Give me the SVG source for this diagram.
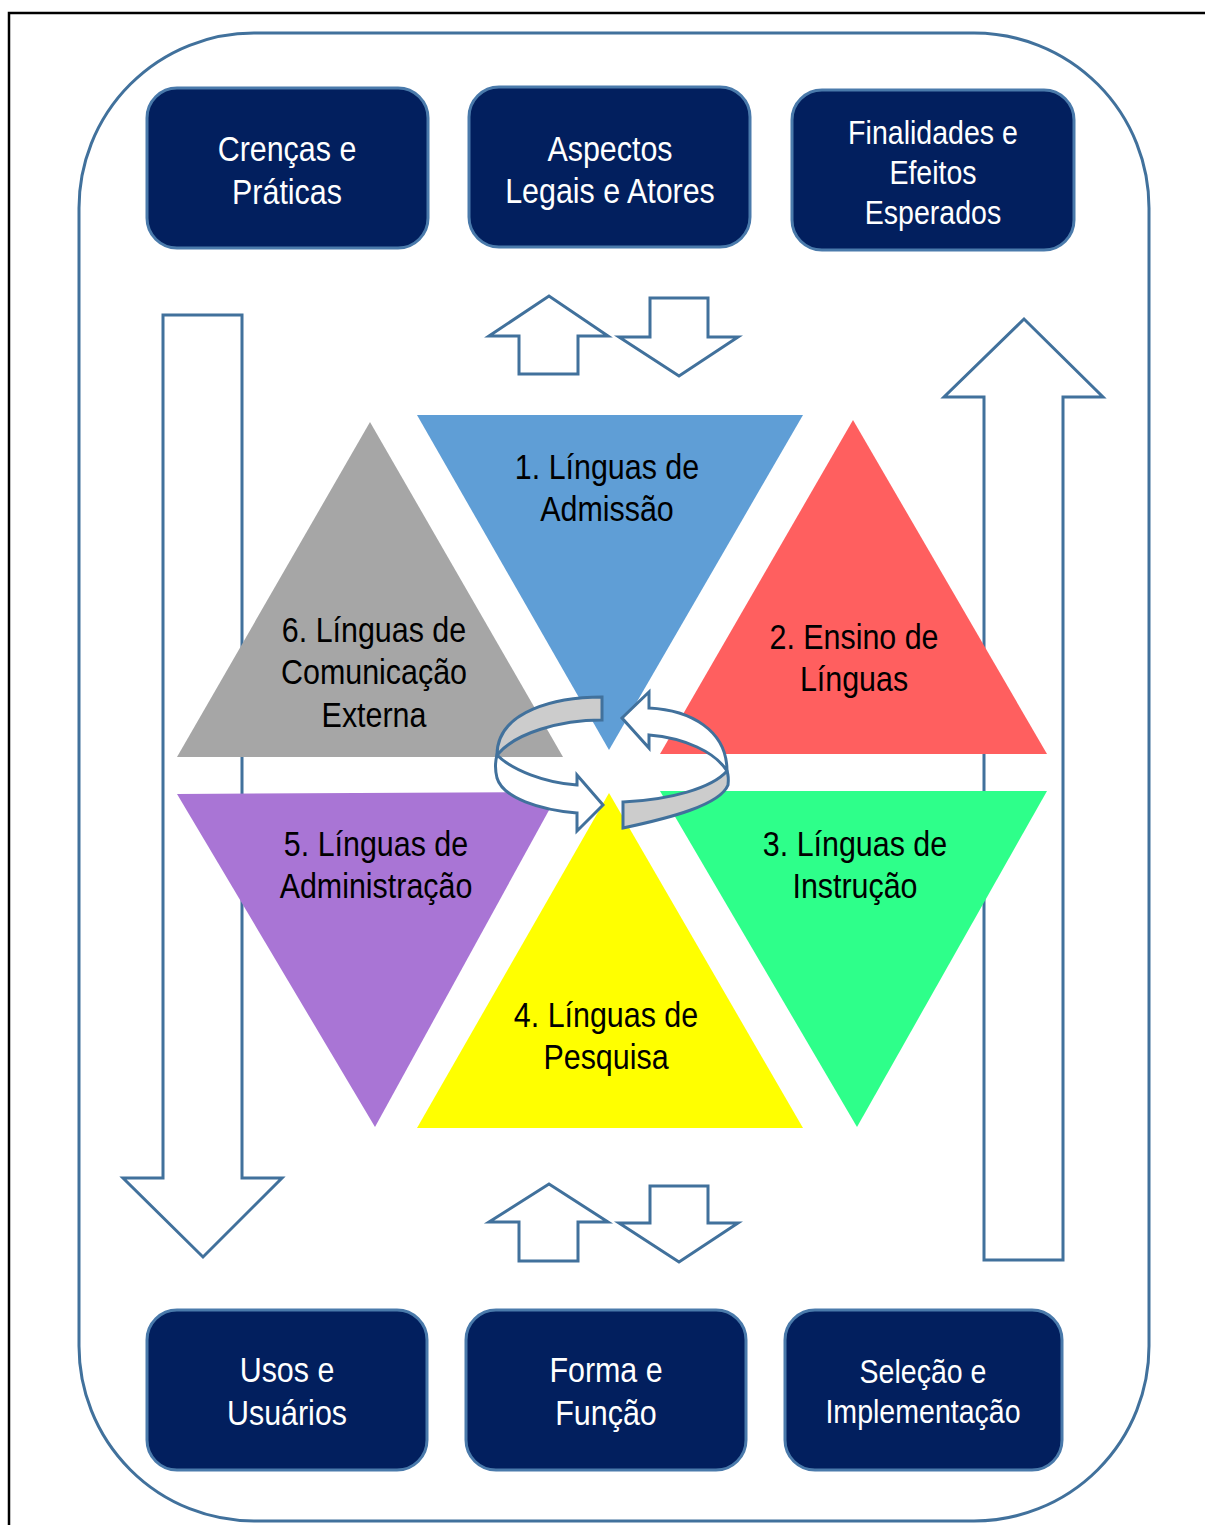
<svg xmlns="http://www.w3.org/2000/svg" width="1205" height="1525" viewBox="0 0 1205 1525">
<style>
.box{fill:#021F5E;stroke:#4A7AAB;stroke-width:3}
.bt{font-family:"Liberation Sans",Arial,sans-serif;font-size:36px;fill:#ffffff;text-anchor:middle}
.tt{font-family:"Liberation Sans",Arial,sans-serif;font-size:36px;fill:#000000;text-anchor:middle}
.sm{font-size:34px}
.arr{fill:#ffffff;stroke:#41719C;stroke-width:3;stroke-linejoin:miter}
.ring{stroke:#41719C;stroke-width:3;stroke-linejoin:miter}
</style>
<rect width="1205" height="1525" fill="#ffffff"/>
<path d="M9,1525 L9,13 L1205,13" fill="none" stroke="#000000" stroke-width="2.5"/>
<rect x="79" y="33" width="1070" height="1488" rx="175" ry="175" fill="none" stroke="#41719C" stroke-width="3"/>

<g id="box-crencas"><rect class="box" x="147" y="88" width="281" height="160" rx="30"/><text class="bt" transform="translate(287,161) scale(0.845,1)">Crenças e</text><text class="bt" transform="translate(287,204) scale(0.845,1)">Práticas</text></g>
<g id="box-aspectos"><rect class="box" x="469" y="87" width="281" height="160" rx="30"/><text class="bt" transform="translate(610,161) scale(0.845,1)">Aspectos</text><text class="bt" transform="translate(610,203) scale(0.845,1)">Legais e Atores</text></g>
<g id="box-finalidades"><rect class="box" x="792" y="90" width="282" height="160" rx="30"/><text class="bt sm" transform="translate(933,144) scale(0.84,1)">Finalidades e</text><text class="bt sm" transform="translate(933,184) scale(0.84,1)">Efeitos</text><text class="bt sm" transform="translate(933,224) scale(0.84,1)">Esperados</text></g>
<g id="box-usos"><rect class="box" x="147" y="1310" width="280" height="160" rx="30"/><text class="bt" transform="translate(287,1382) scale(0.845,1)">Usos e</text><text class="bt" transform="translate(287,1425) scale(0.845,1)">Usuários</text></g>
<g id="box-forma"><rect class="box" x="466" y="1310" width="280" height="160" rx="30"/><text class="bt" transform="translate(606,1382) scale(0.845,1)">Forma e</text><text class="bt" transform="translate(606,1425) scale(0.845,1)">Função</text></g>
<g id="box-selecao"><rect class="box" x="785" y="1310" width="277" height="160" rx="30"/><text class="bt sm" transform="translate(923,1383) scale(0.84,1)">Seleção e</text><text class="bt sm" transform="translate(923,1423) scale(0.84,1)">Implementação</text></g>

<g id="connectors">
<path class="arr" d="M163,315 L242,315 L242,1178 L282,1178 L203,1257 L123,1178 L163,1178 Z"/>
<path class="arr" d="M984,1260 L1063,1260 L1063,397 L1103,397 L1024,319 L944,397 L984,397 Z"/>
<path class="arr" d="M519,374 L578,374 L578,336 L608,336 L549,296 L489,336 L519,336 Z"/>
<path class="arr" d="M650,298 L708,298 L708,337 L738,337 L679,376 L619,337 L650,337 Z"/>
<path class="arr" d="M519,1261 L578,1261 L578,1222 L608,1222 L549,1184 L489,1222 L519,1222 Z"/>
<path class="arr" d="M650,1186 L708,1186 L708,1223 L738,1223 L679,1262 L619,1223 L650,1223 Z"/>
</g>

<g id="tri-1"><polygon points="417,415 803,415 609,750" fill="#5F9ED6"/><text class="tt" transform="translate(607,479) scale(0.845,1)">1. Línguas de</text><text class="tt" transform="translate(607,521) scale(0.845,1)">Admissão</text></g>
<g id="tri-2"><polygon points="853,420 1047,754 660,754" fill="#FF5F5F"/><text class="tt" transform="translate(854,649) scale(0.845,1)">2. Ensino de</text><text class="tt" transform="translate(854,691) scale(0.845,1)">Línguas</text></g>
<g id="tri-3"><polygon points="660,791 1047,791 857,1127" fill="#2EFF8A"/><text class="tt" transform="translate(855,856) scale(0.845,1)">3. Línguas de</text><text class="tt" transform="translate(855,898) scale(0.845,1)">Instrução</text></g>
<g id="tri-4"><polygon points="609,793 803,1128 417,1128" fill="#FFFF00"/><text class="tt" transform="translate(606,1027) scale(0.845,1)">4. Línguas de</text><text class="tt" transform="translate(606,1069) scale(0.845,1)">Pesquisa</text></g>
<g id="tri-5"><polygon points="177,794 559,792 375,1127" fill="#A975D5"/><text class="tt" transform="translate(376,856) scale(0.845,1)">5. Línguas de</text><text class="tt" transform="translate(376,898) scale(0.845,1)">Administração</text></g>
<g id="tri-6"><polygon points="370,422 563,757 177,757" fill="#A6A6A6"/><text class="tt" transform="translate(374,642) scale(0.845,1)">6. Línguas de</text><text class="tt" transform="translate(374,684) scale(0.845,1)">Comunicação</text><text class="tt" transform="translate(374,727) scale(0.845,1)">Externa</text></g>

<g id="cycle">
<path class="ring" fill="#CCCCCC" d="M602,697 C558,697 497,710 497,755 C515,733 560,720 602,720 Z"/>
<path class="ring" fill="#ffffff" d="M497,755 C512,770 545,783 577,785 L577,775 L603,805 L577,831 L577,813 C540,810 503,798 497,778 Q494,766 497,755 Z"/>
<path class="ring" fill="#ffffff" d="M649,708 C690,710 727,730 727,771 C715,752 685,738 649,735 L649,748 L622,718 L649,692 Z"/>
<path class="ring" fill="#CCCCCC" d="M727,771 C712,788 670,800 623,802 L623,828 C670,818 720,805 728,785 Q729,777 727,771 Z"/>
</g>
</svg>
